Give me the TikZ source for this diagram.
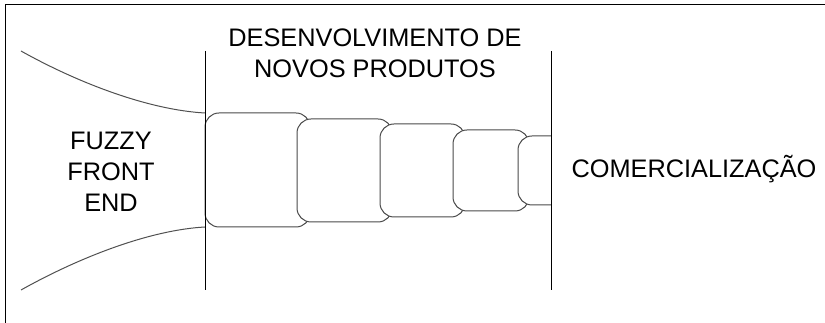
\documentclass[tikz,border=0pt]{standalone}
\usepackage{fontspec}
\setmainfont{Liberation Sans}

\tikzset{every picture/.style={line width=0.75pt}}
\tikzset{stage/.style={draw={rgb, 255:red, 74; green, 74; blue, 74 }, fill=white, rounded corners=10.5pt}}
\tikzset{label/.style={inner sep=0.75pt, align=center, font=\fontsize{19}{23.25}\selectfont}}

\begin{document}
\begin{tikzpicture}[x=0.75pt,y=0.75pt,yscale=-1,xscale=1]
\useasboundingbox (0,0) rectangle (825,323);

%Frame
\draw [color={rgb, 255:red, 0; green, 0; blue, 0 }  ,draw opacity=1 ]   (5,323) -- (5,5) -- (825,5) ;

%Curve Lines
\draw [color={rgb, 255:red, 80; green, 80; blue, 80 }  ,draw opacity=1 ]   (21,51) .. controls (80,84) and (150,110) .. (205,113) ;
%Curve Lines
\draw [color={rgb, 255:red, 80; green, 80; blue, 80 }  ,draw opacity=1 ]   (21,290) .. controls (80,257) and (150,230) .. (205,227) ;

%Rounded Rect
\draw [stage] (205,113) rectangle (310,227) ;
%Rounded Rect
\draw [stage] (297,119) rectangle (392,222) ;
%Rounded Rect
\draw [stage] (380,124) rectangle (465,217) ;
%Rounded Rect
\draw [stage] (453,130) rectangle (529,211) ;
%Rounded Rect
\draw [stage] (551,136) -- (518,136) -- (518,205) -- (551,205) ;

%Straight Lines
\draw [color={rgb, 255:red, 0; green, 0; blue, 0 }  ,draw opacity=1 ]   (205,51) -- (205,290) ;
%Straight Lines
\draw [color={rgb, 255:red, 0; green, 0; blue, 0 }  ,draw opacity=1 ]   (551,51) -- (551,290) ;

% Text Node
\draw (375,53) node (npd) [label] {DESENVOLVIMENTO DE\\NOVOS PRODUTOS};
% Text Node
\draw (111,172) node (ffe) [label] {FUZZY\\FRONT\\END};
% Text Node
\draw (570,178) node (com) [label, anchor=base west] {COMERCIALIZAÇÃO};
\end{tikzpicture}
\end{document}
